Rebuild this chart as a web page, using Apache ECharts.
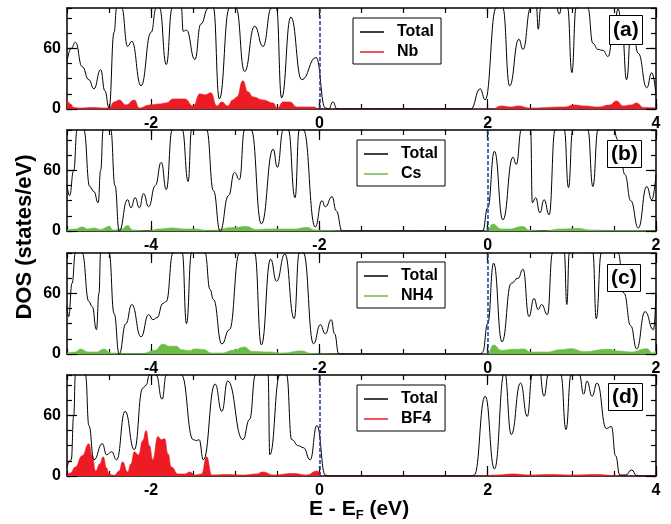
<!DOCTYPE html>
<html><head><meta charset="utf-8">
<script src="https://cdn.jsdelivr.net/npm/echarts@6/dist/echarts.min.js"></script>
<style>html,body{margin:0;padding:0;background:#fff}#c{width:671px;height:524px}</style>
</head><body><div id="c"></div>
<script>
// ---------- data: [energy (eV), DOS (states/eV)] ----------
const totalA = [[-3.00,47],[-2.95,60],[-2.90,66],[-2.82,42],[-2.74,29],[-2.68,20],[-2.60,39],[-2.55,18],[-2.50,1],[-2.44,76],[-2.41,100],[-2.38,130],[-2.35,100],[-2.28,62],[-2.23,67],[-2.12,23],[-2.00,76],[-1.94,100],[-1.92,108],[-1.90,100],[-1.82,44],[-1.75,100],[-1.69,125],[-1.64,100],[-1.62,77],[-1.58,78],[-1.48,49],[-1.41,84],[-1.32,100],[-1.29,110],[-1.26,100],[-1.19,10],[-1.07,100],[-1.03,115],[-0.99,100],[-0.89,37],[-0.77,82],[-0.67,62],[-0.57,100],[-0.54,108],[-0.51,100],[-0.45,11],[-0.34,91],[-0.21,29],[-0.04,51],[0.07,1],[0.11,0],[0.16,7],[0.21,0],[1.80,0],[1.91,20],[1.97,9],[2.10,100],[2.14,130],[2.18,100],[2.26,23],[2.37,69],[2.42,59],[2.51,100],[2.55,120],[2.58,100],[2.60,79],[2.63,100],[2.70,130],[2.80,110],[2.85,94],[2.90,115],[2.95,100],[3.00,36],[3.05,100],[3.12,125],[3.19,100],[3.25,65],[3.31,59],[3.37,58],[3.43,52],[3.50,80],[3.55,99],[3.60,75],[3.65,29],[3.71,89],[3.79,55],[3.89,21],[3.95,36],[4.00,14]];
const nbA = [[-3.00,10],[-2.96,5],[-2.92,1.5],[-2.85,1],[-2.70,1.5],[-2.55,1],[-2.50,1],[-2.44,7],[-2.38,9],[-2.30,4],[-2.20,9],[-2.14,1],[-2.02,4],[-1.90,5],[-1.82,6],[-1.74,10],[-1.66,10],[-1.60,10],[-1.50,3],[-1.42,15],[-1.36,14],[-1.29,16],[-1.22,3],[-1.16,7],[-1.09,3],[-1.03,9],[-0.98,12],[-0.91,28],[-0.85,17],[-0.79,12],[-0.67,9],[-0.55,6],[-0.50,1],[-0.43,7],[-0.35,7],[-0.27,2],[-0.07,2],[0.00,0],[2.05,0],[2.16,3],[2.28,2],[2.36,3],[2.51,1],[2.91,2],[3.03,4],[3.15,3],[3.31,2],[3.45,4],[3.53,8],[3.61,3],[3.70,4],[3.77,6],[3.85,1.5],[4.00,1]];
const totalB = [[-5.00,46],[-4.97,35],[-4.92,60],[-4.88,100],[-4.84,125],[-4.80,100],[-4.73,44],[-4.68,39],[-4.63,28],[-4.60,60],[-4.57,100],[-4.52,125],[-4.48,100],[-4.43,45],[-4.38,0],[-4.28,31],[-4.24,23],[-4.19,33],[-4.14,23],[-4.09,37],[-4.03,24],[-3.95,45],[-3.88,68],[-3.82,41],[-3.75,100],[-3.69,125],[-3.63,100],[-3.56,49],[-3.52,100],[-3.43,130],[-3.34,100],[-3.26,40],[-3.18,0],[-3.08,35],[-3.01,58],[-2.95,51],[-2.89,100],[-2.85,110],[-2.81,100],[-2.69,7],[-2.55,81],[-2.50,63],[-2.43,100],[-2.40,108],[-2.37,100],[-2.29,33],[-2.24,100],[-2.22,105],[-2.19,100],[-2.05,4],[-1.97,30],[-1.93,24],[-1.85,34],[-1.80,20],[-1.73,0],[-0.06,0],[0.00,23],[0.08,79],[0.18,11],[0.30,73],[0.34,66],[0.40,100],[0.45,125],[0.51,100],[0.53,28],[0.57,33],[0.62,18],[0.67,31],[0.73,16],[0.80,100],[0.86,130],[0.91,100],[0.96,43],[1.01,100],[1.10,130],[1.19,100],[1.25,44],[1.31,100],[1.45,125],[1.55,90],[1.59,66],[1.63,56],[1.70,30],[1.79,3],[1.89,44],[1.95,31],[2.00,56]];
const csB = [[-5.00,1],[-4.90,2],[-4.82,4],[-4.75,2],[-4.68,3],[-4.60,1.5],[-4.50,4.5],[-4.45,1],[-4.35,2],[-4.28,5.5],[-4.22,1],[-4.05,0],[-3.90,2],[-3.75,3],[-3.60,2],[-3.50,2],[-3.30,0.5],[-3.01,3.5],[-2.87,4.5],[-2.75,1.5],[-2.60,2],[-2.45,2],[-2.30,2],[-2.15,3.5],[-2.05,1],[-1.90,0.5],[-1.75,0],[-0.05,0],[0.00,1],[0.06,7],[0.16,2],[0.25,2],[0.42,4.5],[0.49,1],[0.65,0],[0.87,2],[1.07,2.5],[1.23,1],[1.45,0.5],[1.60,0.5],[2.00,0]];
const totalC = [[-5.00,47],[-4.98,37],[-4.94,70],[-4.90,100],[-4.86,120],[-4.82,100],[-4.74,52],[-4.70,47],[-4.65,24],[-4.62,60],[-4.60,100],[-4.55,125],[-4.50,100],[-4.44,40],[-4.38,0],[-4.30,30],[-4.23,49],[-4.12,17],[-4.03,39],[-3.98,34],[-3.93,36],[-3.86,50],[-3.82,52],[-3.74,100],[-3.68,125],[-3.63,100],[-3.58,30],[-3.52,100],[-3.44,130],[-3.36,100],[-3.30,64],[-3.26,54],[-3.16,10],[-3.07,24],[-2.95,100],[-2.86,130],[-2.77,100],[-2.69,9],[-2.58,94],[-2.51,72],[-2.41,99],[-2.30,35],[-2.24,100],[-2.22,105],[-2.19,100],[-2.07,10],[-1.99,29],[-1.93,20],[-1.86,34],[-1.82,20],[-1.77,0],[-0.08,0],[-0.06,2],[0.00,30],[0.07,90],[0.17,12],[0.28,70],[0.36,75],[0.42,84],[0.49,37],[0.55,55],[0.60,44],[0.64,49],[0.71,39],[0.77,100],[0.85,130],[0.91,100],[0.94,49],[0.97,100],[1.10,130],[1.25,100],[1.29,35],[1.35,100],[1.45,120],[1.55,100],[1.62,60],[1.70,28],[1.77,5],[1.87,42],[1.97,24],[2.00,59]];
const nh4C = [[-5.00,1],[-4.90,2],[-4.84,5],[-4.75,2],[-4.65,2],[-4.56,5],[-4.48,1],[-4.30,0.5],[-4.10,0.5],[-3.96,3.5],[-3.86,9.7],[-3.78,7.7],[-3.70,7.7],[-3.64,4.3],[-3.55,3.5],[-3.46,5],[-3.38,4.5],[-3.28,1],[-3.15,1],[-3.03,3.7],[-2.89,7],[-2.80,2.5],[-2.60,2],[-2.45,1],[-2.21,3],[-2.10,0.5],[-1.95,0],[-0.05,0],[0.00,0.5],[0.07,9],[0.16,3.7],[0.31,4.7],[0.43,5],[0.51,2],[0.70,2],[0.87,4.3],[0.99,5.3],[1.15,2.5],[1.43,4.7],[1.55,3],[1.70,2],[1.89,5.3],[1.96,1],[2.00,3.5]];
const totalD = [[-3.00,9],[-2.95,16],[-2.92,60],[-2.90,100],[-2.85,130],[-2.78,100],[-2.74,50],[-2.68,16],[-2.58,32],[-2.53,21],[-2.47,24],[-2.41,16],[-2.31,64],[-2.20,26],[-2.10,87],[-2.06,90],[-2.02,100],[-1.98,108],[-1.94,100],[-1.87,76],[-1.82,100],[-1.73,130],[-1.64,100],[-1.50,36],[-1.46,35],[-1.43,36],[-1.38,16],[-1.24,91],[-1.16,64],[-1.09,94],[-0.91,36],[-0.83,56],[-0.76,100],[-0.68,130],[-0.61,100],[-0.59,21],[-0.47,100],[-0.43,110],[-0.39,100],[-0.33,36],[-0.25,30],[-0.19,28],[-0.11,16],[-0.03,50],[0.07,1],[0.10,0],[1.80,0],[1.84,1],[1.97,79],[2.08,7],[2.20,103],[2.28,41],[2.39,92],[2.47,59],[2.53,100],[2.60,115],[2.67,79],[2.72,100],[2.80,125],[2.87,100],[2.93,46],[2.99,100],[3.04,115],[3.09,100],[3.14,81],[3.18,94],[3.24,79],[3.30,92],[3.41,47],[3.47,49],[3.52,20],[3.57,1],[3.64,1],[3.71,6],[3.77,0.5],[3.82,0],[4.00,0]];
const bf4D = [[-3.00,0.5],[-2.96,3],[-2.90,9],[-2.82,20],[-2.74,32],[-2.70,20],[-2.66,5],[-2.61,12],[-2.57,19],[-2.53,8],[-2.50,2],[-2.44,0.5],[-2.38,5],[-2.34,14],[-2.28,4],[-2.24,12],[-2.20,24],[-2.15,21],[-2.10,35],[-2.06,45],[-2.02,30],[-1.98,16],[-1.92,39],[-1.88,36],[-1.84,37],[-1.80,22],[-1.76,9],[-1.68,2],[-1.60,2],[-1.54,4],[-1.48,1],[-1.40,2],[-1.34,19],[-1.28,1],[-1.10,1.5],[-0.90,1],[-0.75,2],[-0.67,4],[-0.55,1],[-0.31,2.5],[-0.15,1],[-0.03,5],[0.03,0],[1.95,0],[2.10,1],[2.30,2],[2.50,1],[2.75,1.5],[3.00,1],[3.30,1.5],[3.50,0.5],[3.60,0],[4.00,0]];

const pdosNames = ['Nb', 'Cs', 'NH4', 'BF4'];
const panelTags = ['(a)', '(b)', '(c)', '(d)'];
const xRangeAD = [-3, 4];
const xRangeBC = [-5, 2];
const xTicksAD = [-2, 0, 2, 4];
const xTicksBC = [-4, -2, 0, 2];
const yRange = [0, 100];
const yTicks = [0, 60];
const fermiLevel = 0;

// ---------- layout / style ----------
const FONT = '"Liberation Sans", Arial, Helvetica, sans-serif';
const RED = '#ed1c24', GREEN = '#6abd45', BLUE = '#2a44a0';
const panels = [
  {total: totalA, pdos: nbA, color: RED, range: xRangeAD, ticks: xTicksAD},
  {total: totalB, pdos: csB, color: GREEN, range: xRangeBC, ticks: xTicksBC},
  {total: totalC, pdos: nh4C, color: GREEN, range: xRangeBC, ticks: xTicksBC},
  {total: totalD, pdos: bf4D, color: RED, range: xRangeAD, ticks: xTicksAD}
];
const gridTops = [8, 130, 253, 375];
const legendPos = [[353, 18], [357, 140], [357, 262], [357, 385]];
const tagPos = [[609, 15, 3], [607, 140, 2], [607, 264, 2], [608, 383, 2]];

const axLine = {show: true, onZero: false, lineStyle: {color: '#000', width: 1.5}};
const noLine = {show: false, onZero: false};
const tickStyle = {color: '#000', width: 1.2};
const labelStyle = {color: '#000', fontSize: 16, fontWeight: 'bold', fontFamily: FONT};

const grids = [], xAxes = [], yAxes = [], series = [], legends = [], titles = [];
panels.forEach((p, i) => {
  grids.push({left: 67, right: 15, top: gridTops[i], height: 101, show: false, outerBoundsMode: 'none'});
  const xb = {gridIndex: i, type: 'value', min: p.range[0], max: p.range[1], splitLine: {show: false}};
  xAxes.push(
    Object.assign({}, xb, {position: 'bottom', interval: 0.5, axisLine: axLine,
      axisTick: {inside: true, length: 5, lineStyle: tickStyle},
      axisLabel: Object.assign({customValues: p.ticks, margin: 7}, labelStyle)}),
    Object.assign({}, xb, {position: 'bottom', axisLine: noLine,
      axisTick: {inside: true, length: 10, customValues: p.ticks, lineStyle: tickStyle}, axisLabel: {show: false}}),
    Object.assign({}, xb, {position: 'top', interval: 0.5, axisLine: axLine,
      axisTick: {inside: true, length: 5, lineStyle: tickStyle}, axisLabel: {show: false}}),
    Object.assign({}, xb, {position: 'top', axisLine: noLine,
      axisTick: {inside: true, length: 10, customValues: p.ticks, lineStyle: tickStyle}, axisLabel: {show: false}})
  );
  const yb = {gridIndex: i, type: 'value', min: yRange[0], max: yRange[1], splitLine: {show: false}};
  yAxes.push(
    Object.assign({}, yb, {position: 'left', interval: 15, axisLine: axLine,
      axisTick: {inside: true, length: 5, lineStyle: tickStyle},
      axisLabel: Object.assign({customValues: yTicks, margin: 6}, labelStyle)}),
    Object.assign({}, yb, {position: 'left', axisLine: noLine,
      axisTick: {inside: true, length: 10, customValues: yTicks, lineStyle: tickStyle}, axisLabel: {show: false}}),
    Object.assign({}, yb, {position: 'right', interval: 15, axisLine: axLine,
      axisTick: {inside: true, length: 5, lineStyle: tickStyle}, axisLabel: {show: false}}),
    Object.assign({}, yb, {position: 'right', axisLine: noLine,
      axisTick: {inside: true, length: 10, customValues: yTicks, lineStyle: tickStyle}, axisLabel: {show: false}})
  );
  series.push({
    type: 'line', name: pdosNames[i], xAxisIndex: 4 * i, yAxisIndex: 4 * i, data: p.pdos,
    smooth: 0.5, smoothMonotone: 'x', symbol: 'none', color: p.color,
    lineStyle: {width: 0.6, color: p.color}, areaStyle: {color: p.color, opacity: 1}, z: 2
  }, {
    type: 'line', name: 'Total', xAxisIndex: 4 * i, yAxisIndex: 4 * i, data: p.total,
    smooth: 0.5, smoothMonotone: 'x', symbol: 'none', color: '#000',
    lineStyle: {width: 1, color: '#000'}, z: 3,
    markLine: {silent: true, symbol: ['none', 'none'], label: {show: false},
      lineStyle: {color: BLUE, type: [4, 2], width: 1.6, opacity: 1}, data: [{xAxis: fermiLevel}]}
  });
  legends.push({
    left: legendPos[i][0], top: legendPos[i][1], orient: 'vertical', selectedMode: false,
    data: ['Total', pdosNames[i]], icon: 'rect', itemWidth: 24, itemHeight: 1.5, itemGap: 4,
    padding: [6, 7, 4, 7], borderColor: '#000', borderWidth: 1, backgroundColor: '#fff', borderRadius: 0,
    textStyle: {fontSize: 16, fontWeight: 'bold', fontFamily: FONT, color: '#000', lineHeight: 16, padding: [0, 0, 0, 8]}
  });
  const tp = tagPos[i];
  titles.push({
    text: panelTags[i], left: tp[0], top: tp[1], padding: [tp[2], 4, tp[2], 4],
    borderColor: '#000', borderWidth: 1, backgroundColor: '#fff', z: 10,
    textStyle: {fontSize: 21, fontWeight: 'bold', fontFamily: FONT, color: '#000', lineHeight: 24}
  });
});
titles.push({
  text: '{m|E - E}{s|F}{m| (eV)}', left: 309, top: 497, padding: 0,
  textStyle: {rich: {
    m: {fontSize: 21, fontWeight: 'bold', fontFamily: FONT, color: '#000'},
    s: {fontSize: 13, fontWeight: 'bold', fontFamily: FONT, color: '#000', padding: [12, 0, 0, 0]}
  }}
});

const chart = echarts.init(document.getElementById('c'), null, {renderer: 'canvas'});
chart.setOption({
  animation: false,
  backgroundColor: '#fff',
  grid: grids, xAxis: xAxes, yAxis: yAxes, series: series, legend: legends, title: titles,
  graphic: [{
    type: 'text', x: 25, y: 237, rotation: Math.PI / 2,
    style: {text: 'DOS (states/eV)', font: 'bold 22px ' + FONT, fill: '#000', align: 'center', verticalAlign: 'middle'}
  }]
});
</script>
</body></html>
